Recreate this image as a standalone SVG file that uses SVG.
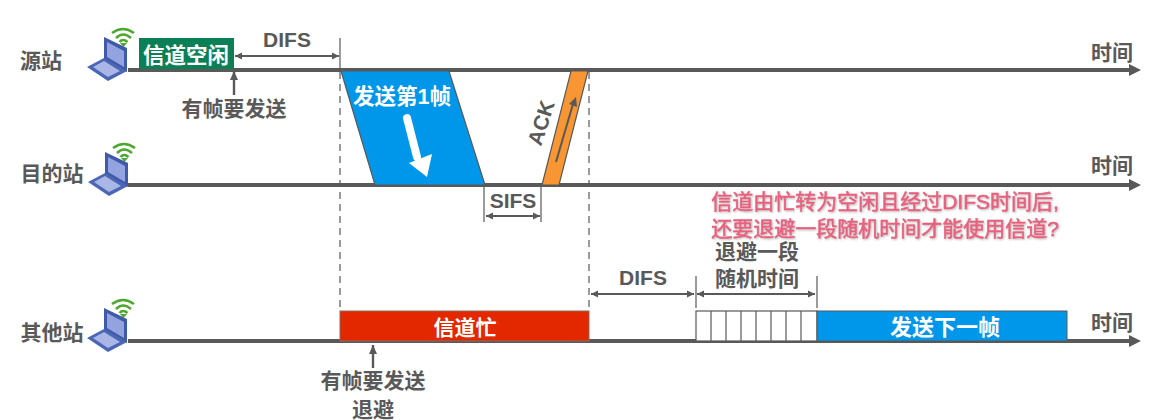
<svg xmlns="http://www.w3.org/2000/svg" xmlns:xlink="http://www.w3.org/1999/xlink" width="1162" height="420" viewBox="0 0 1162 420">
<style>
text{font-family:"Liberation Sans","Noto Sans CJK SC",sans-serif;font-weight:700;fill:#595959;font-size:21px}
.c{text-anchor:middle}
.w{fill:#fff}
.axis{stroke:#595959;stroke-width:4;fill:none}
.thin{stroke:#595959;stroke-width:1.2;fill:none}
.dash{stroke:#595959;stroke-width:1.2;stroke-dasharray:7 5;fill:none}
.dim{stroke:#595959;stroke-width:2;fill:none;marker-start:url(#a);marker-end:url(#a)}
.up{stroke:#595959;stroke-width:2.4;fill:none;marker-end:url(#b)}
.pink{fill:#e8607f;font-size:21px;font-weight:400;stroke:#e8607f;stroke-width:.5;filter:url(#s)}
.wifi{fill:none;stroke:#4ea72e;stroke-width:2.6}
</style>
<defs>
<filter id="s" x="-5%" y="-30%" width="110%" height="160%"><feDropShadow dx="1" dy="1" stdDeviation="1" flood-color="#999" flood-opacity=".7"/></filter>
<marker id="a" markerWidth="8" markerHeight="8" refX="7" refY="4" orient="auto-start-reverse" markerUnits="userSpaceOnUse"><path d="M0 0.5L7 4L0 7.5z" fill="#595959"/></marker>
<marker id="b" markerWidth="10" markerHeight="10" refX="9" refY="5" orient="auto" markerUnits="userSpaceOnUse"><path d="M0 1L9 5L0 9z" fill="#595959"/></marker>
<g id="laptop">
<path class="wifi" d="M112 33Q123 25 134 33"/>
<path class="wifi" d="M116 38Q123 31 131 38"/>
<path class="wifi" d="M119.500 42Q123 38 127.500 42"/>
<path d="M120 43H127L123.500 47z" fill="#4ea72e"/>
<path d="M104 37L127 48V72L104 60z" fill="#3f5aa8"/>
<path d="M107 42L124 51V67L107 57z" fill="#93a3e0"/>
<path d="M87 67L104 58L127 71L108 81z" fill="#4a66b4"/>
<path d="M93 67L104 61L120 71L108 77z" fill="#a9b6e6"/>
</g>
</defs>
<rect width="1162" height="420" fill="#fff"/>

<g id="connectors">
<path class="axis" d="M128 70H1130"/>
<path d="M1129 64L1141 70L1129 76z" fill="#595959"/>
<path class="axis" d="M128 185H1130"/>
<path d="M1129 179L1141 185L1129 191z" fill="#595959"/>
<path class="axis" d="M128 341H1130"/>
<path d="M1129 335L1141 341L1129 347z" fill="#595959"/>
<path class="thin" d="M340 38V70"/>
<path class="dash" d="M340 72V310"/>
<path class="dash" d="M589 72V310"/>
<path class="dim" d="M235 56H339"/>
<path class="up" d="M234 95V71"/>
<path class="up" d="M373 368V345"/>
<path class="thin" d="M484 186V222M541 186V222"/>
<path class="dim" d="M486 216H540"/>
<path class="dim" d="M591 294H694"/>
<path class="dim" d="M697 294H815"/>
<path class="thin" d="M696 276V308M817 276V308"/>
</g>

<g id="source">
<text class="c" x="41" y="68">源站</text>
<use xlink:href="#laptop"/>
</g>
<g id="dest">
<text class="c" x="52" y="181">目的站</text>
<use xlink:href="#laptop" x="1" y="115"/>
</g>
<g id="others">
<text class="c" x="52" y="340">其他站</text>
<use xlink:href="#laptop" y="271"/>
</g>

<g id="idle"><rect x="139" y="38" width="95" height="31" fill="#0b7f55"/><text class="c w" style="font-size:21.500px" x="186" y="63">信道空闲</text></g>
<text class="c" x="287" y="47">DIFS</text>
<text class="c" x="234" y="116">有帧要发送</text>

<g id="frame">
<path d="M341 71H449L485 185H375z" fill="#0097ea" stroke="#595959" stroke-width="1.2"/>
<text class="c w" style="font-size:21.500px" x="402" y="104">发送第1帧</text>
<path d="M407 118L417 157" stroke="#fff" stroke-width="8" stroke-linecap="round"/>
<path d="M409 163L432 154L427 177z" fill="#fff"/>
</g>
<g id="ack">
<path d="M571 71H588L559 185H542z" fill="#f79633" stroke="#595959" stroke-width="1.2"/>
<path d="M556 162L573 104" stroke="#595959" stroke-width="2"/>
<path d="M569 104L576 97L577 107z" fill="#595959"/>
<text class="c" transform="translate(548,125) rotate(-72)">ACK</text>
</g>
<text class="c" x="513" y="208">SIFS</text>

<g id="note">
<text class="c pink" x="885" y="209">信道由忙转为空闲且经过DIFS时间后,</text>
<text class="c pink" x="885" y="236">还要退避一段随机时间才能使用信道?</text>
</g>
<text class="c" x="643" y="285">DIFS</text>
<text class="c" x="757" y="259">退避一段</text>
<text class="c" x="757" y="286">随机时间</text>

<g id="busy"><rect x="340" y="311" width="249" height="30" fill="#e32800" stroke="#8a6a60" stroke-width="1"/><text class="c w" x="465" y="335">信道忙</text></g>
<g id="slots">
<rect x="696" y="311" width="121" height="30" fill="#fff" stroke="#595959" stroke-width="1.2"/>
<path class="thin" d="M711 311V341M726 311V341M741 311V341M756 311V341M771 311V341M786 311V341M801 311V341"/>
</g>
<g id="next"><rect x="817" y="311" width="250" height="30" fill="#0097ea" stroke="#595959" stroke-width="1"/><text class="c w" style="font-size:22px" x="945" y="335">发送下一帧</text></g>
<text class="c" x="373" y="388">有帧要发送</text>
<text class="c" x="373" y="417">退避</text>
<text class="c" x="1112" y="60">时间</text>
<text class="c" x="1112" y="173">时间</text>
<text class="c" x="1112" y="330">时间</text>
</svg>
